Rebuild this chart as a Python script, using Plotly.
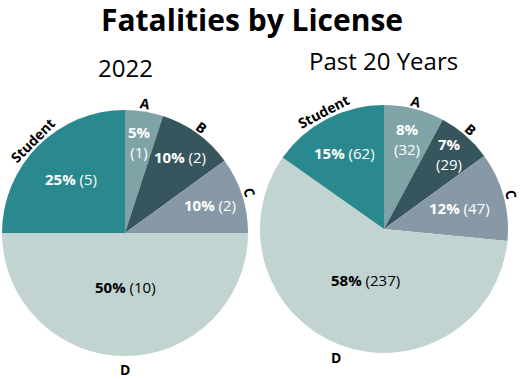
import math
import plotly.graph_objects as go

W, H = 522, 379

categories = ["A", "B", "C", "D", "Student"]
values_2022 = [1, 2, 2, 10, 5]
values_20yr = [32, 29, 47, 237, 62]
colors = ["#80a3a8", "#36555c", "#8799a6", "#c2d4d2", "#2a898e"]
text_colors = ["white", "white", "white", "black", "white"]
two_line_2022 = [True, False, False, False, False]
two_line_20yr = [True, True, False, False, False]
# radial position of the inside labels, as fraction of the radius (style)
inner_frac_2022 = [0.75, 0.76, 0.73, 0.44, 0.62]
inner_frac_20yr = [0.75, 0.80, 0.63, 0.44, 0.69]

title = "Fatalities by License"
subtitles = ["2022", "Past 20 Years"]

FONT = "Open Sans"

# pie geometry in pixels (center x, center y from top, radius)
pies = [
    dict(vals=values_2022, two=two_line_2022, frac=inner_frac_2022,
         cx=125, cy=233, r=123, sub=subtitles[0], sx=125, sy=68),
    dict(vals=values_20yr, two=two_line_20yr, frac=inner_frac_20yr,
         cx=384, cy=229, r=124, sub=subtitles[1], sx=383, sy=61),
]

fig = go.Figure()
annotations = []


def pos(p, ang_deg, dist):
    rad = math.radians(ang_deg)
    px = p["cx"] + dist * math.sin(rad)
    py = p["cy"] - dist * math.cos(rad)
    return px / W, 1 - py / H


for p in pies:
    vals = p["vals"]
    tot = sum(vals)
    fig.add_trace(go.Pie(
        labels=categories, values=vals,
        textinfo="none",
        sort=False, direction="clockwise", rotation=0,
        marker=dict(colors=colors, line=dict(width=0)),
        showlegend=False, hoverinfo="label+value+percent",
        domain=dict(x=[(p["cx"] - p["r"]) / W, (p["cx"] + p["r"]) / W],
                    y=[1 - (p["cy"] + p["r"]) / H, 1 - (p["cy"] - p["r"]) / H]),
    ))
    cum = 0
    for cat, v, two, fr, tc in zip(categories, vals, p["two"], p["frac"], text_colors):
        mid = (cum + v / 2) / tot * 360
        cum += v
        # inside value label
        pct = round(100 * v / tot)
        sep = "<br>" if two else " "
        x, y = pos(p, mid, fr * p["r"])
        annotations.append(dict(
            x=x, y=y, xref="paper", yref="paper",
            text=f"<b>{pct}%</b>{sep}({v})", showarrow=False,
            font=dict(family=FONT, size=15, color=tc),
            xanchor="center", yanchor="middle", align="center"))
        # outside category label
        upright = 90 < mid < 270
        ang = 0 if upright else (mid if mid <= 90 else mid - 360)
        x, y = pos(p, mid, p["r"] + (13 if upright else 8))
        annotations.append(dict(
            x=x, y=y, xref="paper", yref="paper",
            text=f"<b>{cat}</b>", showarrow=False, textangle=ang,
            font=dict(family=FONT, size=14, color="black"),
            xanchor="center", yanchor="middle"))
    annotations.append(dict(
        x=p["sx"] / W, y=1 - p["sy"] / H, xref="paper", yref="paper",
        text=p["sub"], showarrow=False,
        font=dict(family=FONT, size=24, color="black"),
        xanchor="center", yanchor="middle"))

annotations.append(dict(
    x=252 / W, y=1 - 19 / H, xref="paper", yref="paper",
    text=f"<b>{title}</b>", showarrow=False,
    font=dict(family=FONT, size=30, color="black"),
    xanchor="center", yanchor="middle"))

fig.update_layout(
    width=W, height=H, margin=dict(l=0, r=0, t=0, b=0),
    paper_bgcolor="white", plot_bgcolor="white",
    annotations=annotations,
)

fig.write_html("out.html", config={"displayModeBar": False},
               post_script="document.body.style.margin='0';")
